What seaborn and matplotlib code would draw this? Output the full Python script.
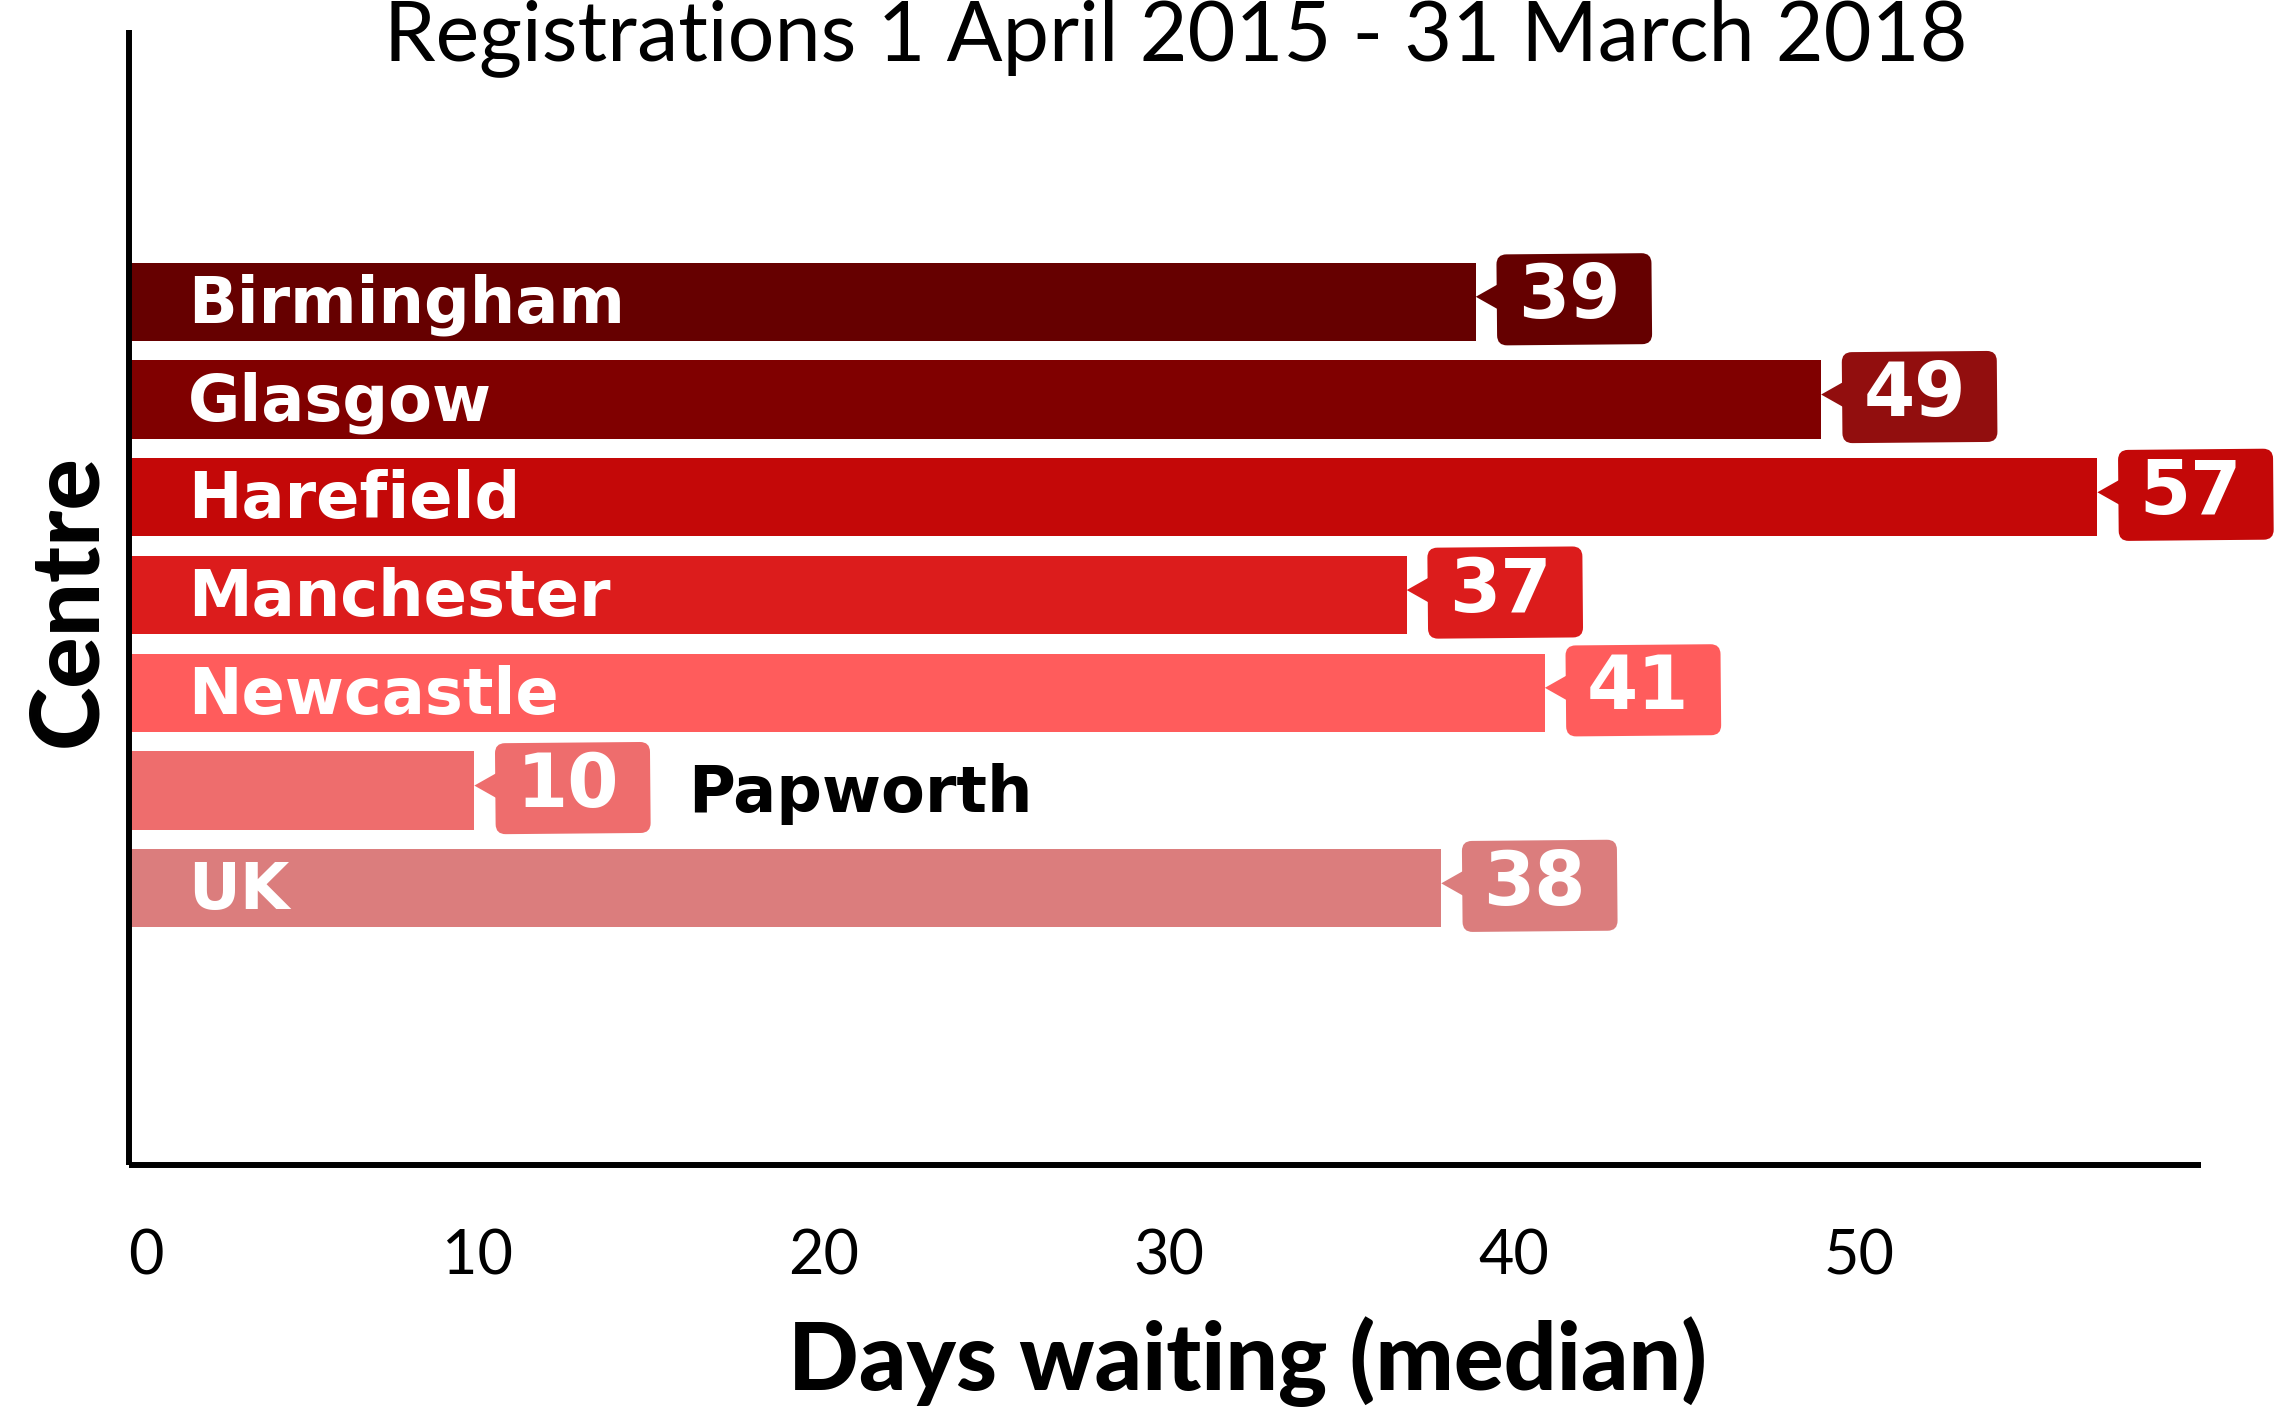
import numpy as np
import pandas as pd
import matplotlib
matplotlib.use("Agg")
import matplotlib.pyplot as plt
import matplotlib.transforms as mtransforms
from matplotlib.patches import FancyBboxPatch, Polygon
import seaborn as sns

# ---------------- data ----------------
centres = ["Birmingham", "Glasgow", "Harefield", "Manchester", "Newcastle", "Papworth", "UK"]
days = [39, 49, 57, 37, 41, 10, 38]
bar_colors = ["#660000", "#800000", "#C40808", "#DC1C1C", "#FF5C5C", "#EE6D6D", "#DB7D7D"]
box_colors = ["#650000", "#920E0E", "#C40808", "#DC1C1C", "#FF5C5C", "#EE6D6D", "#DB7D7D"]
label_inside = [True, True, True, True, True, False, True]
xticks = [0, 10, 20, 30, 40, 50]
title = "Registrations 1 April 2015 - 31 March 2018"
xlabel = "Days waiting (median)"
ylabel = "Centre"

# ---------------- style ----------------
sns.set_theme(style="white")
plt.rcParams["font.family"] = ["Lato", "DejaVu Sans"]

W, H = 2276, 1408
fig = plt.figure(figsize=(W / 100, H / 100), dpi=100)
ax_l, ax_r, ax_t, ax_b = 129, 2201, 30, 1165
ax = fig.add_axes([ax_l / W, 1 - ax_b / H, (ax_r - ax_l) / W, (ax_b - ax_t) / H])

df = pd.DataFrame({"centre": centres, "days": days})
sns.barplot(data=df, x="days", y="centre", hue="centre", palette=bar_colors,
            orient="h", width=0.8, legend=False, ax=ax, saturation=1,
            linewidth=0, edgecolor="none")

ax.set_xlim(0, 60)
ax.set_ylim(8.83, -2.78)

for s in ["top", "right"]:
    ax.spines[s].set_visible(False)
for s in ["left", "bottom"]:
    ax.spines[s].set_linewidth(4.3)
    ax.spines[s].set_color("black")
    ax.spines[s].set_capstyle("butt")

ax.set_yticks([])
ax.set_xticks(xticks)
ax.set_xticklabels([str(t) for t in xticks], fontsize=44, family=["Lato", "DejaVu Sans"])
ax.tick_params(axis="x", length=0, pad=46, colors="black")
for k, tk in enumerate(ax.xaxis.get_major_ticks()):
    dx = 0.17 if k == 0 else 0.035
    tk.label1.set_transform(tk.label1.get_transform()
                            + mtransforms.ScaledTranslation(dx, 0, fig.dpi_scale_trans))

ax.set_xlabel(xlabel, fontsize=67, fontweight="black", family=["Lato", "DejaVu Sans"], color="black")
ax.xaxis.set_label_coords(0.540, -0.173)
ax.xaxis.label.set_va("center")
ax.set_ylabel(ylabel, fontsize=69, fontweight="black", family=["Lato", "DejaVu Sans"], color="black")
ax.yaxis.set_label_coords(-0.029, 0.497)
ax.yaxis.label.set_va("center")

fig.text(1176 / W, 1 - 60 / H, title, ha="center", va="baseline", fontsize=59.5,
         family=["Lato", "DejaVu Sans"], color="black")

ident = mtransforms.IdentityTransform()
bw, bh, gap, half_arrow = 155, 91, 21, 13
for i, (name, v) in enumerate(zip(centres, days)):
    x_end, y_c = ax.transData.transform((v, i))
    x0, _ = ax.transData.transform((0, i))
    bx0 = x_end + gap
    by0 = y_c + 2.5 - bh / 2
    rot = mtransforms.Affine2D().rotate_deg_around(bx0 + bw / 2, y_c, 0.5)
    box = FancyBboxPatch((bx0, by0), bw, bh, boxstyle="round,pad=0,rounding_size=10",
                         fc=box_colors[i], ec="none", transform=rot, clip_on=False)
    fig.add_artist(box)
    ay = y_c + 5
    tri = Polygon([[x_end, ay], [bx0 + 2, ay + half_arrow], [bx0 + 2, ay - half_arrow]],
                  closed=True, fc=box_colors[i], ec="none", transform=ident, clip_on=False)
    fig.add_artist(tri)
    fig.text(bx0 + bw / 2 - 5, y_c - 16.5, str(v), transform=ident, ha="center", va="baseline",
             fontsize=53, fontweight="bold", family="DejaVu Sans", color="white")
    if label_inside[i]:
        fig.text(x0 + 59, y_c - 21, name, transform=ident, ha="left", va="baseline",
                 fontsize=46, fontweight="bold", family="DejaVu Sans", color="white")
    else:
        fig.text(bx0 + bw + 38, y_c - 21, name, transform=ident, ha="left", va="baseline",
                 fontsize=46, fontweight="bold", family="DejaVu Sans", color="black")

fig.savefig("out.png", dpi=100)
